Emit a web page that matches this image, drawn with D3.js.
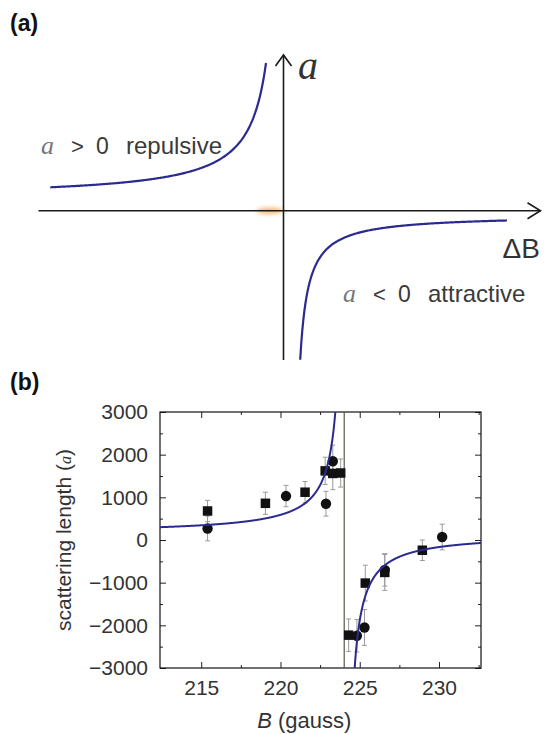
<!DOCTYPE html>
<html>
<head>
<meta charset="utf-8">
<script src="https://cdn.jsdelivr.net/npm/d3@7"></script>
<style>
  body { margin: 0; background: #fff; }
  svg { display: block; }
</style>
</head>
<body>
<svg id="fig" width="550" height="734" font-family="Arial, 'Liberation Sans', sans-serif"></svg>
<script>
// ---------- panel (b): measured scattering lengths ----------
const squareB   = [215.4, 219.05, 221.55, 222.82, 223.3, 223.8, 224.3, 225.35, 226.58, 228.95];
const squareA   = [680, 860, 1120, 1620, 1560, 1570, -2230, -1010, -760, -240];
const squareErr = [250, 260, 250, 320, 380, 330, 380, 420, 420, 240];

const circleB   = [215.4, 220.35, 222.87, 223.3, 224.82, 225.3, 226.58, 230.2];
const circleA   = [270, 1030, 850, 1845, -2245, -2050, -700, 70];
const circleErr = [290, 250, 290, 380, 380, 420, 380, 300];

const xTicks = [215, 220, 225, 230];
const yTicks = [-3000, -2000, -1000, 0, 1000, 2000, 3000];
const xMinor = [217.5, 222.5, 227.5, 232.5];
const yMinor = [-2500, -1500, -500, 500, 1500, 2500];

// Feshbach fit a(B) = bg + K / (B - B0)
const fitB0 = 224.1, fitK = -1827, fitBg = 144;
const resonanceB = 224.02;

// ---------- panel (a): schematic curve parameters (sketch units) ----------
const sketchLeft  = { bg: 5.1,  k: 399.5, pole: 0.4, from: -93.3, to: -7.0 };
const sketchRight = { bg: -1.7, k: 190,   pole: 3.4, from: 6.68,  to: 89.4 };

const svg = d3.select("#fig");
const curveColor = "#2b2a8e";
const serif = "'Liberation Serif', 'Times New Roman', serif";

// ================= panel (a) =================
const origin = { x: 283.5, y: 210.7 };
const xS = d3.scaleLinear().domain([-100, 100]).range([origin.x - 250, origin.x + 250]);
const yS = d3.scaleLinear().domain([-100, 100]).range([origin.y + 250, origin.y - 250]);

const defs = svg.append("defs");
defs.append("filter").attr("id", "glow").attr("x", "-50%").attr("y", "-200%")
  .attr("width", "200%").attr("height", "500%")
  .append("feGaussianBlur").attr("stdDeviation", 2.2);

svg.append("text").attr("x", 10).attr("y", 31)
  .attr("font-size", 23).attr("font-weight", "bold").attr("fill", "#111").text("(a)");

// faint orange smear near the origin
svg.append("ellipse")
  .attr("cx", xS(-5.5)).attr("cy", yS(0)).attr("rx", 13).attr("ry", 3)
  .attr("fill", "#f5a14c").attr("opacity", 0.8).attr("filter", "url(#glow)");

const axisA = svg.append("g").attr("stroke", "#1a1a1a").attr("stroke-width", 1.6).attr("fill", "none");
axisA.append("line").attr("x1", xS(-98)).attr("x2", xS(102.8)).attr("y1", yS(0)).attr("y2", yS(0));
axisA.append("line").attr("x1", xS(0)).attr("x2", xS(0)).attr("y1", yS(-59.7)).attr("y2", yS(62.3));
// open arrow heads
axisA.append("path").attr("d", `M${xS(102.8) - 13},${yS(0) - 8} L${xS(102.8)},${yS(0)} L${xS(102.8) - 13},${yS(0) + 8}`);
axisA.append("path").attr("d", `M${xS(0) - 8},${yS(62.3) + 11} L${xS(0)},${yS(62.3)} L${xS(0) + 8},${yS(62.3) + 11}`);

const sketchLine = d3.line().x(d => xS(d[0])).y(d => yS(d[1]));
const leftPts = d3.range(0, 201).map(i => {
  const u = sketchLeft.from + (sketchLeft.to - sketchLeft.from) * i / 200;
  return [u, sketchLeft.bg + sketchLeft.k / (sketchLeft.pole - u)];
});
const rightPts = d3.range(0, 201).map(i => {
  const u = sketchRight.from + (sketchRight.to - sketchRight.from) * i / 200;
  return [u, sketchRight.bg - sketchRight.k / (u - sketchRight.pole)];
});
svg.append("path").attr("d", sketchLine(leftPts)).attr("fill", "none")
  .attr("stroke", curveColor).attr("stroke-width", 2.2);
svg.append("path").attr("d", sketchLine(rightPts)).attr("fill", "none")
  .attr("stroke", curveColor).attr("stroke-width", 2.2);

// axis names
svg.append("text").attr("x", 298).attr("y", 79)
  .attr("font-family", serif).attr("font-style", "italic")
  .attr("font-size", 40).attr("fill", "#333").text("a");
svg.append("text").attr("x", 540).attr("y", 258).attr("text-anchor", "end")
  .attr("font-size", 28).attr("fill", "#333").text("ΔB");

// regime labels
function regime(x, y, sym, word) {
  const g = svg.append("g").attr("fill", "#3a3a3a");
  g.append("text").attr("x", x).attr("y", y)
    .attr("font-family", serif).attr("font-style", "italic")
    .attr("font-size", 26).attr("fill", "#777").text("a");
  g.append("text").attr("x", x + 30).attr("y", y).attr("font-size", 22).text(sym);
  g.append("text").attr("x", x + 55).attr("y", y).attr("font-size", 23).text("0");
  g.append("text").attr("x", x + 85).attr("y", y).attr("font-size", 24).text(word);
}
regime(41, 154, ">", "repulsive");
regime(343, 302, "<", "attractive");

// ================= panel (b) =================
const frame = { left: 160, right: 481, top: 412, bottom: 668 };
const x = d3.scaleLinear().domain([212.4, 232.65]).range([frame.left, frame.right]);
const y = d3.scaleLinear().domain([-3000, 3000]).range([frame.bottom, frame.top]);

svg.append("text").attr("x", 10).attr("y", 390)
  .attr("font-size", 23).attr("font-weight", "bold").attr("fill", "#111").text("(b)");

defs.append("clipPath").attr("id", "plotClip").append("rect")
  .attr("x", frame.left).attr("y", frame.top)
  .attr("width", frame.right - frame.left).attr("height", frame.bottom - frame.top);

const tickCol = "#222";
// axes with inward ticks on all four sides
const axes = [
  { a: d3.axisBottom(x).tickValues(xTicks).tickFormat(d3.format("d")), t: `translate(0,${frame.bottom})` },
  { a: d3.axisTop(x).tickValues(xTicks).tickFormat(""), t: `translate(0,${frame.top})` },
  { a: d3.axisLeft(y).tickValues(yTicks).tickFormat(d3.format("d")), t: `translate(${frame.left},0)` },
  { a: d3.axisRight(y).tickValues(yTicks).tickFormat(""), t: `translate(${frame.right},0)` }
];
axes.forEach(o => {
  const g = svg.append("g").attr("transform", o.t)
    .call(o.a.tickSizeInner(-6).tickSizeOuter(0).tickPadding(12));
  g.select(".domain").remove();
  g.selectAll(".tick line").attr("stroke", tickCol);
  g.selectAll(".tick text").attr("font-size", 21).attr("fill", "#333")
    .attr("font-family", "Arial, 'Liberation Sans', sans-serif");
});
const minorAxes = [
  [d3.axisBottom(x).tickValues(xMinor), `translate(0,${frame.bottom})`],
  [d3.axisTop(x).tickValues(xMinor), `translate(0,${frame.top})`],
  [d3.axisLeft(y).tickValues(yMinor), `translate(${frame.left},0)`],
  [d3.axisRight(y).tickValues(yMinor), `translate(${frame.right},0)`]
];
minorAxes.forEach(([a, t]) => {
  const g = svg.append("g").attr("transform", t)
    .call(a.tickSizeInner(-3).tickSizeOuter(0).tickFormat(""));
  g.select(".domain").remove();
  g.selectAll(".tick line").attr("stroke", tickCol);
});

svg.append("rect").attr("x", frame.left).attr("y", frame.top)
  .attr("width", frame.right - frame.left).attr("height", frame.bottom - frame.top)
  .attr("fill", "none").attr("stroke", "#111").attr("stroke-width", 1.2);

// resonance position
svg.append("line").attr("x1", x(resonanceB)).attr("x2", x(resonanceB))
  .attr("y1", frame.top).attr("y2", frame.bottom)
  .attr("stroke", "#4a4a3a").attr("stroke-width", 1.1);

const plot = svg.append("g").attr("clip-path", "url(#plotClip)");

const squares = squareB.map((b, i) => ({ b, a: squareA[i], e: squareErr[i] }));
const circles = circleB.map((b, i) => ({ b, a: circleA[i], e: circleErr[i] }));
const allPts = squares.concat(circles);

const err = plot.append("g").attr("stroke", "#9a9a9a").attr("stroke-width", 1);
allPts.forEach(d => {
  err.append("line").attr("x1", x(d.b)).attr("x2", x(d.b)).attr("y1", y(d.a - d.e)).attr("y2", y(d.a + d.e));
  [d.a - d.e, d.a + d.e].forEach(v =>
    err.append("line").attr("x1", x(d.b) - 2.5).attr("x2", x(d.b) + 2.5).attr("y1", y(v)).attr("y2", y(v)));
});

const sq = 9.5;
plot.selectAll("rect.sq").data(squares).join("rect").attr("class", "sq")
  .attr("x", d => x(d.b) - sq / 2).attr("y", d => y(d.a) - sq / 2)
  .attr("width", sq).attr("height", sq).attr("fill", "#111");
plot.selectAll("circle.ci").data(circles).join("circle").attr("class", "ci")
  .attr("cx", d => x(d.b)).attr("cy", d => y(d.a)).attr("r", 5.2).attr("fill", "#111");

// fit curve, one branch on each side of the pole
const fit = B => fitBg + fitK / (B - fitB0);
const fitLine = d3.line().x(d => x(d[0])).y(d => y(Math.max(-4000, Math.min(4000, d[1]))));
const leftB = d3.range(212.4, fitB0 - 0.4, 0.02);
const rightB = d3.range(fitB0 + 0.45, 232.66, 0.02);
[leftB, rightB].forEach(bs => {
  plot.append("path").attr("d", fitLine(bs.map(b => [b, fit(b)])))
    .attr("fill", "none").attr("stroke", curveColor).attr("stroke-width", 2);
});

// axis titles
svg.append("text").attr("x", x(221.5)).attr("y", 728).attr("text-anchor", "middle")
  .attr("font-size", 22).attr("fill", "#333")
  .call(t => {
    t.append("tspan").attr("font-style", "italic").text("B");
    t.append("tspan").text(" (gauss)");
  });

svg.append("text")
  .attr("transform", `translate(71,${(frame.top + frame.bottom) / 2}) rotate(-90)`)
  .attr("text-anchor", "middle").attr("font-size", 21).attr("fill", "#333")
  .call(t => {
    t.append("tspan").text("scattering length (");
    t.append("tspan").attr("font-family", serif)
      .attr("font-style", "italic").attr("font-size", 16).text("a");
    t.append("tspan").text(")");
  });
</script>
</body>
</html>
